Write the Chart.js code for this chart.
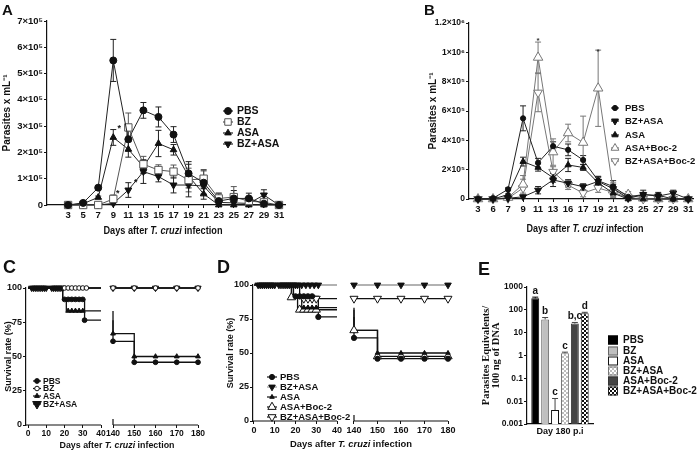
<!DOCTYPE html>
<html><head><meta charset="utf-8">
<script src="https://cdn.jsdelivr.net/npm/chart.js@4.4.1/dist/chart.umd.min.js"></script>
<style>html,body{margin:0;padding:0;background:#fff;}body{position:relative;width:700px;height:450px;overflow:hidden}</style>
</head><body>
<script>
// ================= DATA =================
const days = [3,5,7,9,11,13,15,17,19,21,23,25,27,29,31];
const xTickLabelsA = ['3','5','7','9','11','13','15','17','19','21','23','25','27','29','31'];
const xTickLabelsB = ['3','6','7','9','11','13','16','17','19','21','23','25','27','29','31'];
const yTicksA = [0,1,2,3,4,5,6,7];
const yTickLabelsA = ['0','1×10⁵','2×10⁵','3×10⁵','4×10⁵','5×10⁵','6×10⁵','7×10⁵'];
const yTicksB = [0,2,4,6,8,10,12];
const yTickLabelsB = ['0','2×10⁵','4×10⁵','6×10⁵','8×10⁵','1×10⁶','1.2×10⁶'];

// Panel A (parasites/mL, in units of 10^5)
const pbsA      = [0,0.08,0.66,5.5,2.5,3.6,3.35,2.68,1.2,0.85,0.15,0.25,0.25,0.05,0];
const pbsAErr   = [0,0.05,0.08,0.8,0.45,0.3,0.38,0.3,0.45,0.45,0.3,0.3,0.2,0,0];
const bzA       = [0,0,0,0.23,2.95,1.55,1.33,1.27,0.95,1.0,0.25,0.3,0.15,0.1,0];
const bzAErr    = [0,0,0,0.15,0.55,0.3,0.2,0.25,0.45,0.35,0.2,0.4,0.1,0.1,0];
const asaA      = [0,0.05,0.29,2.57,2.12,1.45,2.34,2.1,1.1,0.42,0,0,0,0,0];
const asaAErr   = [0,0,0.05,0.3,0.3,0.25,0.5,0.2,0.45,0.2,0.05,0,0,0,0];
const bzAsaA    = [0,0,0,0.06,0.57,1.27,1.08,0.76,0.76,0.72,0.1,0.08,0.06,0.38,0];
const bzAsaAErr = [0,0,0,0.05,0.28,0.45,0.2,0.3,0.45,0.3,0.15,0.15,0.1,0.2,0];
const starsA = [[9.8,2.98],[9.6,0.5],[12.0,0.95]];

// Panel B (units of 10^5)
const pbsB         = [0,0.05,0.66,5.5,2.47,3.6,3.35,2.66,1.25,0.85,0.15,0.3,0.25,0,0];
const pbsBErr      = [0,0,0.1,0.85,0.3,0.3,0.4,0.3,0.3,0.4,0.2,0.3,0.2,0,0];
const bzAsaB       = [0,0,0.05,0.15,0.6,1.3,1.07,0.84,1.2,0.7,0.05,0.3,0.2,0.4,0];
const bzAsaBErr    = [0,0,0,0.1,0.25,0.45,0.25,0.2,0.3,0.3,0.1,0.15,0.1,0.2,0];
const asaB         = [0,0,0.3,2.55,2.15,1.45,2.32,2.15,1.1,0.4,0,0,0,0,0];
const asaBErr      = [0,0,0.05,0.3,0.25,0.3,0.45,0.2,0.4,0.2,0.1,0,0,0,0];
const asaBocB      = [0,0,0.1,1.0,9.65,3.2,4.5,3.85,7.55,0.6,0.3,0.05,0,0,0];
const asaBocBErr   = [0,0,0.1,0.6,1.05,0.9,0.6,1.8,2.6,0.5,0.2,0,0,0,0];
const bzAsaBocB    = [0,0,0.05,0.75,7.25,1.85,0.95,0.4,0.75,0.45,0.1,0,0,0,0];
const bzAsaBocBErr = [0,0,0.05,0.6,1.3,0.35,0.3,0.25,0.3,0.2,0.1,0,0,0,0];
const starsB = [[11,10.9],[19,10.15]];

// Survival (days, %), null = axis break
const survXTicks = [0,10,20,30,40,140,150,160,170,180];
const survXTickLabels = ['0','10','20','30','40','140','150','160','170','180'];
const survYTicks = [0,25,50,75,100];
// Panel C
const survPBS_C   = [[0,100],[19,91.7],[31,76.5],[40,76.5],null,[140,76.5],[140,61.1],[150,45.8],[180,45.8]];
const survBZ_C    = [[0,100],[40,100],null,[140,100],[180,100]];
const survASA_C   = [[0,100],[19,91.7],[21,83.3],[40,83.3],null,[140,83.3],[140,66.7],[150,50],[180,50]];
const survBZASA_C = [[0,100],[40,100],null,[140,100],[180,100]];
const mkPBS_C   = [[20,91.7],[22,91.7],[24,91.7],[26,91.7],[28,91.7],[30,91.7],[31,76.5],[140,61.1],[150,45.8],[160,45.8],[170,45.8],[180,45.8]];
const mkBZ_C    = [[20,100],[22,100],[24,100],[26,100],[28,100],[30,100],[32,100],[140,100],[150,100],[160,100],[170,100],[180,100]];
const mkASA_C   = [[22,83.3],[24,83.3],[26,83.3],[28,83.3],[30,83.3],[140,66.7],[150,50],[160,50],[170,50],[180,50]];
const mkBZASA_C = [[2,100],[3,100],[4,100],[5,100],[6,100],[7,100],[8,100],[9,100],[10,100],[13,100],[14,100],[15,100],[16,100],[17,100],[18,100],[19,100],[140,100],[150,100],[160,100],[170,100],[180,100]];
// Panel D
const survPBS_D      = [[0,100],[19,91.7],[31,76.5],[40,76.5],null,[140,76.5],[140,61.1],[150,45.8],[180,45.8]];
const survBZASA_D    = [[0,100],[40,100],null,[140,100],[180,100]];
const survASA_D      = [[0,100],[19,91.7],[23,83.3],[40,83.3],null,[140,83.3],[140,66.7],[150,50],[180,50]];
const survASABoc_D   = [[0,100],[18,90.9],[21,81.8],[40,81.8],null,[140,81.8],[140,66.7],[150,47.5],[180,47.5]];
const survBZASABoc_D = [[0,100],[22,90],[40,90],null,[140,90],[180,90]];
const mkPBS_D      = [[20,91.7],[22,91.7],[24,91.7],[26,91.7],[28,91.7],[31,76.5],[140,61.1],[150,45.8],[160,45.8],[170,45.8],[180,45.8]];
const mkBZASA_D    = [[2,100],[3,100],[4,100],[5,100],[6,100],[7,100],[8,100],[9,100],[10,100],[12,100],[13,100],[14,100],[15,100],[16,100],[17,100],[18,100],[19,100],[20,100],[21,100],[23,100],[25,100],[27,100],[29,100],[31,100],[140,100],[150,100],[160,100],[170,100],[180,100]];
const mkASA_D      = [[24,83.3],[26,83.3],[28,83.3],[30,83.3],[150,50],[160,50],[170,50],[180,50]];
const mkASABoc_D   = [[18,90.9],[22,81.8],[24,81.8],[26,81.8],[28,81.8],[30,81.8],[140,66.7],[150,47.5],[160,47.5],[170,47.5],[180,47.5]];
const mkBZASABoc_D = [[24,90],[26,90],[28,90],[30,90],[140,90],[150,90],[160,90],[170,90],[180,90]];

// Panel E
const eCategories = ['Day 180 p.i'];
const eGroups  = ['PBS','BZ','ASA','BZ+ASA','ASA+Boc-2','BZ+ASA+Boc-2'];
const eValues  = [320, 38, 0.0041, 1.25, 25, 70];
const eErrs    = [40, 8, 0.009, 0.15, 3, 8];
const eLetters = ['a','b','c','c','b,c','d'];
const eYTicks = [0.001,0.01,0.1,1,10,100,1000];
const eYTickLabels = ['0.001','0.01','0.1','1','10','100','1000'];

// ================= HELPERS =================
const FAM = "'Liberation Sans', Arial, sans-serif";
const INK = '#111';
function f(size, weight='bold', style='normal', fam=FAM){ return `${style} ${weight} ${size}px ${fam}`; }
function fnt(size, extra){ return Object.assign({family:FAM, size, weight:'bold'}, extra||{}); }

function makeCanvas(box){
  const c=document.createElement('canvas');
  c.width=box.w; c.height=box.h;
  Object.assign(c.style,{position:'absolute',left:box.left+'px',top:box.top+'px',width:box.w+'px',height:box.h+'px'});
  document.body.appendChild(c);
  return c;
}
function padFor(box, area, yw, xh){
  return {left: area.left-box.left-yw, top: area.top-box.top, right: box.left+box.w-area.right, bottom: box.top+box.h-area.bottom-xh};
}
function drawMarker(ctx, style, x, y, r, fill, stroke, lw){
  ctx.save(); ctx.beginPath();
  if(style==='circle'){ ctx.arc(x,y,r,0,Math.PI*2); }
  else if(style==='rect'){ const s=r*Math.SQRT1_2; ctx.rect(x-s,y-s,2*s,2*s); }
  else { let a = style==='tridown'?Math.PI:0;
    for(let i=0;i<3;i++){ const px=x+Math.sin(a)*r, py=y-Math.cos(a)*r; if(i) ctx.lineTo(px,py); else ctx.moveTo(px,py); a+=2*Math.PI/3; }
    ctx.closePath(); }
  if(fill){ctx.fillStyle=fill; ctx.fill();}
  if(stroke){ctx.strokeStyle=stroke; ctx.lineWidth=lw||1; ctx.stroke();}
  ctx.restore();
}
function richText(ctx, parts, cx, cy, size, targetW){
  ctx.save();
  let tot=0;
  parts.forEach(p=>{ctx.font=f(size,'bold',p.i?'italic':'normal'); p.w=ctx.measureText(p.t).width; tot+=p.w;});
  const sx = targetW ? targetW/tot : 1;
  ctx.translate(cx, cy); ctx.scale(sx,1);
  let x=-tot/2; ctx.textBaseline='middle'; ctx.textAlign='left'; ctx.fillStyle=INK;
  parts.forEach(p=>{ctx.font=f(size,'bold',p.i?'italic':'normal'); ctx.fillText(p.t,x,0); x+=p.w;});
  ctx.restore();
}
const xTitleParts = () => [{t:'Days after '},{t:'T. cruzi',i:true},{t:' infection'}];
function letter(ctx, t, x, y, size){ ctx.save(); ctx.font=f(size); ctx.fillStyle=INK; ctx.textBaseline='alphabetic'; ctx.textAlign='left'; ctx.fillText(t,x,y); ctx.restore(); }
function drawLegend(ctx, items, mx, tx, ys, size, half){
  items.forEach((it,i)=>{ const y=ys[i];
    if(half){ ctx.save(); ctx.strokeStyle=it.st.line||INK; ctx.lineWidth=1.2; ctx.beginPath(); ctx.moveTo(mx-half,y); ctx.lineTo(mx+half,y); ctx.stroke(); ctx.restore(); }
    drawMarker(ctx, it.st.ps, mx, y, it.r||it.st.r, it.st.fill, it.st.stroke, 1);
    ctx.save(); ctx.font=f(size); ctx.fillStyle=INK; ctx.textBaseline='middle'; ctx.textAlign='left'; ctx.fillText(it.label, tx, y+0.5); ctx.restore();
  });
}
function overlay(box, fn){ return {id:'ov', afterDraw(chart){ const ctx=chart.ctx; ctx.save(); ctx.translate(-box.left,-box.top); fn(ctx, chart, box); ctx.restore(); } }; }
const errPlugin = {id:'err', beforeDatasetsDraw(chart){
  const ctx=chart.ctx, ys=chart.scales.y;
  chart.data.datasets.forEach((ds,i)=>{
    if(!ds.errs) return;
    const meta=chart.getDatasetMeta(i);
    ctx.save(); ctx.strokeStyle=ds.errColor||ds.borderColor; ctx.lineWidth=1;
    meta.data.forEach((el,j)=>{
      const e=ds.errs[j]; if(!e) return;
      const v=(typeof ds.data[j]==='object')?ds.data[j].y:ds.data[j];
      const x=el.x, yt=ys.getPixelForValue(v+e);
      const yb = ds.errUpOnly ? ys.getPixelForValue(v) : ys.getPixelForValue(Math.max(v-e, ys.min));
      ctx.beginPath(); ctx.moveTo(x,yt); ctx.lineTo(x,yb);
      ctx.moveTo(x-3,yt); ctx.lineTo(x+3,yt);
      if(!ds.errUpOnly && v-e>ys.min){ ctx.moveTo(x-3,yb); ctx.lineTo(x+3,yb); }
      ctx.stroke();
    });
    ctx.restore();
  });
}};
function psOf(st){ return st.ps==='rect'?'rect':st.ps==='circle'?'circle':'triangle'; }
function lineDS(label, xs, ys, errs, st){
  return {label, data: xs.map((x,i)=>({x, y: ys[i]})), errs, borderColor: st.line, borderWidth:1,
    backgroundColor: st.fill, pointBackgroundColor: st.fill, pointBorderColor: st.stroke, pointBorderWidth:1,
    pointRadius: st.r, pointStyle: psOf(st), pointRotation: st.ps==='tridown'?180:0, showLine:true, tension:0, clip:false};
}
function axisCommon(){ return {
  grid:{display:true, drawOnChartArea:false, drawTicks:true, tickLength:3, color:INK, lineWidth:1},
  border:{display:true, color:INK, width:1.2}
};}
const baseOpts = { responsive:false, animation:false, events:[], plugins:{legend:{display:false}, tooltip:{enabled:false}} };

// ================= PANEL A =================
(function(){
  const box={left:0, top:0, w:320, h:245}, area={left:47, top:21, right:285, bottom:205}, yw=47, xh=30;
  const st = {
    pbs:{ps:'circle', r:3.5, fill:INK, stroke:INK, line:'#222'},
    bz:{ps:'rect', r:5.2, fill:'#fff', stroke:'#555', line:'#555'},
    asa:{ps:'tri', r:3.8, fill:INK, stroke:INK, line:'#222'},
    bzasa:{ps:'tridown', r:4, fill:INK, stroke:INK, line:'#222'}
  };
  new Chart(makeCanvas(box), {
    type:'scatter',
    data:{datasets:[
      lineDS('PBS', days, pbsA, pbsAErr, st.pbs),
      lineDS('BZ', days, bzA, bzAErr, st.bz),
      lineDS('ASA', days, asaA, asaAErr, st.asa),
      lineDS('BZ+ASA', days, bzAsaA, bzAsaAErr, st.bzasa)
    ]},
    options: Object.assign({}, baseOpts, {
      layout:{padding: padFor(box, area, yw, xh)},
      scales:{
        x: Object.assign(axisCommon(), {type:'linear', min:0.2, max:31.8,
          afterBuildTicks:s=>{s.ticks=days.map(v=>({value:v}));}, afterFit:s=>{s.height=xh;},
          ticks:{autoSkip:false, maxRotation:0, padding:2, color:INK, font:fnt(9.5), callback:(v,i)=>xTickLabelsA[i]}}),
        y: Object.assign(axisCommon(), {type:'linear', min:0, max:7,
          afterBuildTicks:s=>{s.ticks=yTicksA.map(v=>({value:v}));}, afterFit:s=>{s.width=yw;},
          ticks:{autoSkip:false, padding:1, color:INK, font:fnt(9.5), callback:(v,i)=>yTickLabelsA[i]},
          title:{display:true, text:'Parasites x mL⁻¹', color:INK, font:fnt(10), padding:{top:1,bottom:0}}})
      }
    }),
    plugins:[errPlugin, overlay(box, (ctx, chart)=>{
      letter(ctx,'A',2,15,15);
      richText(ctx, xTitleParts(), 163, 231, 10, 119);
      drawLegend(ctx, [{label:'PBS',st:st.pbs},{label:'BZ',st:st.bz,r:4.6},{label:'ASA',st:st.asa},{label:'BZ+ASA',st:st.bzasa}],
        228, 237, [111,122,133,144], 10.5, 5);
      const xs=chart.scales.x, ys=chart.scales.y;
      ctx.font=f(9); ctx.fillStyle=INK; ctx.textAlign='center'; ctx.textBaseline='middle';
      starsA.forEach(s=>ctx.fillText('*', xs.getPixelForValue(s[0])+box.left, ys.getPixelForValue(s[1])+box.top+2));
    })]
  });
})();

// ================= PANEL B =================
(function(){
  const box={left:355, top:0, w:345, h:245}, area={left:469, top:23, right:695, bottom:199}, yw=43, xh=30;
  const st = {
    pbs:{ps:'circle', r:2.6, fill:INK, stroke:INK, line:'#222'},
    bzasa:{ps:'tridown', r:4, fill:INK, stroke:INK, line:'#222'},
    asa:{ps:'tri', r:3.6, fill:INK, stroke:INK, line:'#222'},
    asaboc:{ps:'tri', r:5.5, fill:'#fff', stroke:'#777', line:'#777'},
    bzasaboc:{ps:'tridown', r:5, fill:'#fff', stroke:'#777', line:'#777'}
  };
  new Chart(makeCanvas(box), {
    type:'scatter',
    data:{datasets:[
      lineDS('PBS', days, pbsB, pbsBErr, st.pbs),
      lineDS('BZ+ASA', days, bzAsaB, bzAsaBErr, st.bzasa),
      lineDS('ASA', days, asaB, asaBErr, st.asa),
      lineDS('ASA+Boc-2', days, asaBocB, asaBocBErr, st.asaboc),
      lineDS('BZ+ASA+Boc-2', days, bzAsaBocB, bzAsaBocBErr, st.bzasaboc)
    ]},
    options: Object.assign({}, baseOpts, {
      layout:{padding: padFor(box, area, yw, xh)},
      scales:{
        x: Object.assign(axisCommon(), {type:'linear', min:1.8, max:31.7,
          afterBuildTicks:s=>{s.ticks=days.map(v=>({value:v}));}, afterFit:s=>{s.height=xh;},
          ticks:{autoSkip:false, maxRotation:0, padding:2, color:INK, font:fnt(9.5), callback:(v,i)=>xTickLabelsB[i]}}),
        y: Object.assign(axisCommon(), {type:'linear', min:0, max:12,
          afterBuildTicks:s=>{s.ticks=yTicksB.map(v=>({value:v}));}, afterFit:s=>{s.width=yw;},
          ticks:{autoSkip:false, padding:1, color:INK, font:fnt(8.5), callback:(v,i)=>yTickLabelsB[i]},
          title:{display:true, text:'Parasites x mL⁻¹', color:INK, font:fnt(10), padding:{top:1,bottom:0}}})
      }
    }),
    plugins:[errPlugin, overlay(box, (ctx, chart)=>{
      letter(ctx,'B',424,15,15);
      richText(ctx, xTitleParts(), 585, 229, 10, 117);
      drawLegend(ctx, [{label:'PBS',st:st.pbs},{label:'BZ+ASA',st:st.bzasa},{label:'ASA',st:st.asa},{label:'ASA+Boc-2',st:st.asaboc,r:4.5},{label:'BZ+ASA+Boc-2',st:st.bzasaboc,r:4.5}],
        615, 625, [108,121,135,148,161], 9.5, 4);
      const xs=chart.scales.x, ys=chart.scales.y;
      ctx.font=f(8); ctx.fillStyle='#333'; ctx.textAlign='center'; ctx.textBaseline='middle';
      starsB.forEach(s=>ctx.fillText('*', xs.getPixelForValue(s[0])+box.left, ys.getPixelForValue(s[1])+box.top+2));
    })]
  });
})();

// ================= SURVIVAL (C, D) =================
function T(P, d){ return d <= 40 ? d : P.brk + (d-140)*P.k; }
function survLine(arr, P, color, width){
  return {data: arr.map(p=> p ? {x:T(P,p[0]), y:p[1]} : {x:T(P,40), y:null}), showLine:true, stepped:true,
    borderColor:color, borderWidth:width||1.3, pointRadius:0, clip:false, order:10};
}
function survMarks(arr, P, st, order){
  return {data: arr.map(p=>({x:T(P,p[0]), y:p[1]})), showLine:false, pointStyle:psOf(st), pointRotation: st.ps==='tridown'?180:0,
    pointRadius:st.r, pointBackgroundColor:st.fill, pointBorderColor:st.stroke, pointBorderWidth:1, clip:false, order};
}
function survChart(box, area, yw, xh, P, datasets, extra){
  const brk = {id:'brk', beforeDatasetsDraw(chart){
    const ctx=chart.ctx, xs=chart.scales.x, y=chart.chartArea.bottom;
    ctx.save(); ctx.strokeStyle=INK; ctx.lineWidth=1.2; ctx.beginPath();
    ctx.moveTo(chart.chartArea.left, y); ctx.lineTo(xs.getPixelForValue(T(P,40)), y);
    const x140=xs.getPixelForValue(T(P,140));
    ctx.moveTo(x140, y); ctx.lineTo(xs.getPixelForValue(T(P,180)), y);
    ctx.moveTo(x140, y); ctx.lineTo(x140, y-6);
    ctx.stroke(); ctx.restore();
  }};
  new Chart(makeCanvas(box), {
    type:'scatter',
    data:{datasets},
    options: Object.assign({}, baseOpts, {
      layout:{padding: padFor(box, area, yw, xh)},
      scales:{
        x: Object.assign(axisCommon(), {type:'linear', min:P.min, max:T(P,180), border:{display:false},
          afterBuildTicks:s=>{s.ticks=survXTicks.map(d=>({value:T(P,d)}));}, afterFit:s=>{s.height=xh;},
          ticks:{autoSkip:false, maxRotation:0, padding:1, color:INK, font:fnt(P.fs), callback:(v,i)=>survXTickLabels[i]}}),
        y: Object.assign(axisCommon(), {type:'linear', min:0, max:100,
          afterBuildTicks:s=>{s.ticks=survYTicks.map(v=>({value:v}));}, afterFit:s=>{s.width=yw;},
          ticks:{autoSkip:false, padding:1, color:INK, font:fnt(9), callback:(v,i)=>String(survYTicks[i])},
          title:{display:true, text:'Survival rate (%)', color:INK, font:fnt(9), padding:{top:3,bottom:0}}})
      }
    }),
    plugins:[brk, overlay(box, extra)]
  });
}
(function(){
  const box={left:0, top:250, w:214, h:200}, area={left:26, top:288, right:198, bottom:425};
  const P={min:-1.1, brk:46.58, k:1.1644, fs:8.5};
  const st = {
    pbs:{ps:'circle', r:2.4, fill:INK, stroke:INK, line:INK},
    bz:{ps:'circle', r:2.3, fill:'#fff', stroke:INK, line:INK},
    asa:{ps:'tri', r:2.8, fill:INK, stroke:INK, line:INK},
    bzasa:{ps:'tridown', r:3.6, fill:INK, stroke:INK, line:INK}
  };
  survChart(box, area, 26, 25, P, [
    survLine(survPBS_C, P, INK), survLine(survBZ_C, P, INK), survLine(survASA_C, P, INK), survLine(survBZASA_C, P, INK),
    survMarks(mkBZ_C, P, st.bz, 0), survMarks(mkPBS_C, P, st.pbs, 1), survMarks(mkASA_C, P, st.asa, 2), survMarks(mkBZASA_C, P, st.bzasa, 3)
  ], (ctx)=>{
    letter(ctx,'C',3,273,18);
    richText(ctx, xTitleParts(), 117, 445, 9.5, 115);
    drawLegend(ctx, [{label:'PBS',st:st.pbs},{label:'BZ',st:st.bz},{label:'ASA',st:st.asa},{label:'BZ+ASA',st:st.bzasa,r:5}],
      37, 43, [381,388.5,396,404], 8.5, 4);
  });
})();
(function(){
  const box={left:214, top:250, w:246, h:200}, area={left:253, top:285, right:448, bottom:421};
  const P={min:-0.48, brk:48.19, k:1.1325, fs:9};
  const st = {
    pbs:{ps:'circle', r:2.6, fill:INK, stroke:INK, line:INK},
    bzasa:{ps:'tridown', r:3.8, fill:INK, stroke:INK, line:'#999'},
    asa:{ps:'tri', r:2.6, fill:INK, stroke:INK, line:INK},
    asaboc:{ps:'tri', r:4.8, fill:'#fff', stroke:INK, line:INK},
    bzasaboc:{ps:'tridown', r:4.6, fill:'#fff', stroke:INK, line:INK}
  };
  survChart(box, area, 31, 25, P, [
    survLine(survPBS_D, P, INK), survLine(survBZASA_D, P, '#999'), survLine(survASA_D, P, INK), survLine(survASABoc_D, P, INK), survLine(survBZASABoc_D, P, INK),
    survMarks(mkPBS_D, P, st.pbs, 0), survMarks(mkBZASA_D, P, st.bzasa, 1), survMarks(mkASA_D, P, st.asa, 2), survMarks(mkASABoc_D, P, st.asaboc, 3), survMarks(mkBZASABoc_D, P, st.bzasaboc, 4)
  ], (ctx)=>{
    letter(ctx,'D',217,273,18);
    richText(ctx, xTitleParts(), 351, 444, 9.5, 122);
    drawLegend(ctx, [{label:'PBS',st:st.pbs},{label:'BZ+ASA',st:st.bzasa},{label:'ASA',st:st.asa},{label:'ASA+Boc-2',st:st.asaboc},{label:'BZ+ASA+Boc-2',st:st.bzasaboc}],
      272, 280, [377,387,397,407,417], 9.5, 5);
  });
})();

// ================= PANEL E =================
(function(){
  const box={left:460, top:250, w:240, h:200}, area={left:527, top:287, right:593, bottom:424}, yw=49, xh=20;
  function pat(a, b, cell){ const c=document.createElement('canvas'); c.width=c.height=cell*2; const x=c.getContext('2d');
    x.fillStyle=a; x.fillRect(0,0,cell*2,cell*2); x.fillStyle=b; x.fillRect(0,0,cell,cell); x.fillRect(cell,cell,cell,cell);
    return x.createPattern(c,'repeat'); }
  const fills = ['#000', '#bfbfbf', '#fff', pat('#fff','#bdbdbd',2), '#444', pat('#fff','#111',2)];
  const borders = ['#000','#666','#111','#777','#333','#222'];
  new Chart(makeCanvas(box), {
    type:'bar',
    data:{labels:eCategories, datasets: eGroups.map((g,i)=>({label:g, data:[eValues[i]], errs:[eErrs[i]], errUpOnly:true, errColor:borders[i]==='#000'?'#000':'#444',
      backgroundColor:fills[i], borderColor:borders[i], borderWidth:1, categoryPercentage:0.9, barPercentage:0.8}))},
    options: Object.assign({}, baseOpts, {
      layout:{padding: padFor(box, area, yw, xh)},
      scales:{
        x:{grid:{display:false, drawTicks:false}, border:{display:true, color:INK, width:1.2}, afterFit:s=>{s.height=xh;},
           ticks:{padding:2, color:INK, font:fnt(9)}},
        y: Object.assign(axisCommon(), {type:'logarithmic', min:0.001, max:1000,
          afterBuildTicks:s=>{s.ticks=eYTicks.map(v=>({value:v}));}, afterFit:s=>{s.width=yw;},
          ticks:{autoSkip:false, padding:1, color:INK, font:fnt(8.5), callback:(v,i)=>eYTickLabels[i]},
          title:{display:true, text:['Parasites Equivalents/','100 ng of DNA'], color:INK,
            font:{family:"'Liberation Serif', 'Times New Roman', serif", size:10.5, weight:'bold', lineHeight:0.95}, padding:{top:3,bottom:0}}})
      }
    }),
    plugins:[errPlugin, overlay(box, (ctx, chart)=>{
      letter(ctx,'E',478,275,18);
      const ys=chart.scales.y;
      chart.data.datasets.forEach((ds,i)=>{
        const el=chart.getDatasetMeta(i).data[0];
        const y=ys.getPixelForValue(eValues[i]+eErrs[i]);
        ctx.save(); ctx.font=f(10); ctx.fillStyle=INK; ctx.textAlign='center'; ctx.textBaseline='bottom';
        ctx.fillText(eLetters[i], el.x+box.left, y+box.top-1); ctx.restore();
      });
      const rows=[340,351,361,371,381,391];
      eGroups.forEach((g,i)=>{
        ctx.save(); ctx.fillStyle=fills[i]; ctx.fillRect(608,rows[i]-4.5,10,9);
        ctx.strokeStyle=borders[i]; ctx.lineWidth=1; ctx.strokeRect(608.5,rows[i]-4,9,8);
        ctx.font=f(10); ctx.fillStyle=INK; ctx.textBaseline='middle'; ctx.textAlign='left'; ctx.fillText(g,623,rows[i]+0.5);
        ctx.restore();
      });
    })]
  });
})();
</script>
</body></html>
